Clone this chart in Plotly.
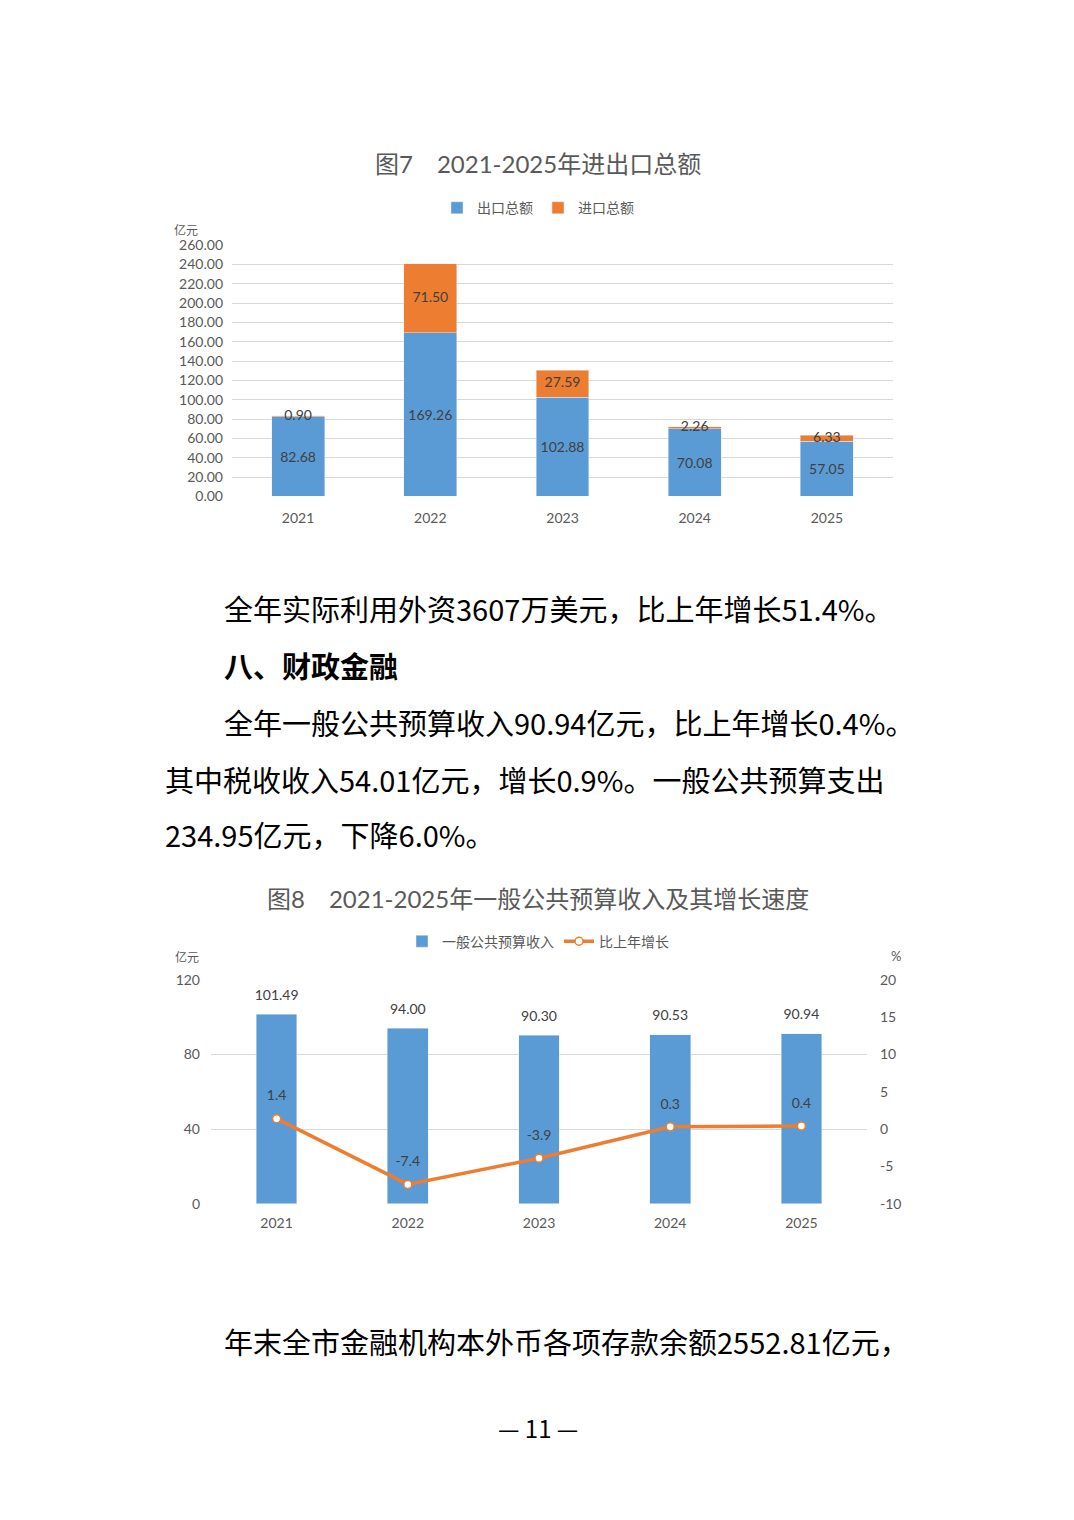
import plotly.graph_objects as go

# 图7 data
years = ["2021", "2022", "2023", "2024", "2025"]
export_total = [82.68, 169.26, 102.88, 70.08, 57.05]
import_total = [0.90, 71.50, 27.59, 2.26, 6.33]

# 图8 data
budget_income = [101.49, 94.00, 90.30, 90.53, 90.94]
growth_rate = [1.4, -7.4, -3.9, 0.3, 0.4]
rate_ticks = [-10, -5, 0, 5, 10, 15, 20]

# body text of the page
body_lines = [
    "全年实际利用外资3607万美元，比上年增长51.4%。",
    "八、财政金融",
    "全年一般公共预算收入90.94亿元，比上年增长0.4%。",
    "其中税收收入54.01亿元，增长0.9%。一般公共预算支出",
    "234.95亿元，下降6.0%。",
    "年末全市金融机构本外币各项存款余额2552.81亿元，",
]

# figure kept a bit smaller than the window so the page never scrolls
W, H = 1058, 1490
OFF_X = 8
BLUE = "#5B9BD5"
ORANGE = "#ED7D31"
GRID = "#D9D9D9"
GRAY = "#595959"
LABEL = "#404040"
CHART_FONT = "Lato, Noto Sans CJK SC"
TEXT_FONT = "Noto Sans CJK SC"


def px_x(x):
    return (x - OFF_X) / W


def px_y(y):
    # measured: the photo lands ~9px lower and slightly squeezed vertically
    y = (y - 9) / 0.988
    return 1 - (y - 8) / H


fig = go.Figure()

# ---- figure 7: stacked bars
fig.add_trace(go.Bar(
    x=years, y=export_total, name="出口总额", marker_color=BLUE, width=0.4,
    texttemplate="%{y:.2f}", textposition="inside", insidetextanchor="middle",
    textfont=dict(color=LABEL, size=14), xaxis="x", yaxis="y", legend="legend",
))
fig.add_trace(go.Bar(
    x=years, y=import_total, name="进口总额", marker_color=ORANGE, width=0.4,
    textposition="none", xaxis="x", yaxis="y", legend="legend",
))
# import labels sit in the middle of the orange segment, even when it is thin
import_mid = [e + i / 2 for e, i in zip(export_total, import_total)]
fig.add_trace(go.Scatter(
    x=years, y=import_mid, mode="text", showlegend=False,
    text=[f"{v:.2f}" for v in import_total], textposition="middle center",
    textfont=dict(color=LABEL, size=14), cliponaxis=False, hoverinfo="skip",
    xaxis="x", yaxis="y",
))

# ---- figure 8: bars + growth line
fig.add_trace(go.Bar(
    x=years, y=budget_income, name="一般公共预算收入", marker_color=BLUE,
    textposition="none", xaxis="x2", yaxis="y2", legend="legend2", width=0.31,
))
fig.add_trace(go.Scatter(
    x=years, y=growth_rate, name="比上年增长", mode="lines+markers",
    line=dict(color=ORANGE, width=3.5),
    marker=dict(size=8, color="white", line=dict(color=ORANGE, width=1.5)),
    xaxis="x2", yaxis="y3", legend="legend2",
))
# value labels, lifted a little above bars / points like the original
fig.add_trace(go.Scatter(
    x=years, y=budget_income, mode="markers+text", showlegend=False,
    marker=dict(size=16, color="rgba(0,0,0,0)"),
    text=[f"{v:.2f}" for v in budget_income], textposition="top center",
    textfont=dict(color=LABEL, size=14), cliponaxis=False, hoverinfo="skip",
    xaxis="x2", yaxis="y2",
))
fig.add_trace(go.Scatter(
    x=years, y=growth_rate, mode="markers+text", showlegend=False,
    marker=dict(size=22, color="rgba(0,0,0,0)"),
    text=[f"{v:.1f}" for v in growth_rate], textposition="top center",
    textfont=dict(color=LABEL, size=14), cliponaxis=False, hoverinfo="skip",
    xaxis="x2", yaxis="y3",
))

axis_font = dict(color=GRAY, size=14, family=CHART_FONT)

fig.update_layout(
    width=W, height=H,
    margin=dict(l=0, r=0, t=0, b=0),
    paper_bgcolor="white", plot_bgcolor="white",
    font=dict(family=CHART_FONT, color=GRAY),
    barmode="stack",
    xaxis=dict(domain=[px_x(232), px_x(893)], anchor="y", type="category",
               showgrid=False, showline=False, ticks="", tickfont=axis_font,
               ticklabelstandoff=12),
    yaxis=dict(domain=[px_y(496), px_y(245)], anchor="x", range=[0, 260], dtick=20,
               tickformat=".2f", gridcolor=GRID, zeroline=False, showline=False,
               tickfont=axis_font, ticklabelstandoff=8),
    xaxis2=dict(domain=[px_x(211), px_x(867)], anchor="y2", type="category",
                showgrid=False, showline=False, ticks="", tickfont=axis_font,
                ticklabelstandoff=9),
    yaxis2=dict(domain=[px_y(1203), px_y(979)], anchor="x2", range=[0, 120], dtick=40,
                gridcolor=GRID, zeroline=False, showline=False, tickfont=axis_font,
                ticklabelstandoff=10),
    yaxis3=dict(overlaying="y2", side="right", anchor="x2", range=[-10, 20],
                tickvals=rate_ticks, ticktext=[str(v) for v in rate_ticks],
                showgrid=False, zeroline=False, showline=False, tickfont=axis_font,
                ticklabelstandoff=12),
    legend=dict(orientation="h", x=px_x(538), xanchor="center", y=px_y(208),
                yanchor="middle", traceorder="normal",
                font=dict(color=GRAY, size=14), bgcolor="rgba(0,0,0,0)"),
    legend2=dict(orientation="h", x=px_x(538), xanchor="center", y=px_y(941),
                 yanchor="middle", traceorder="normal",
                 font=dict(color=GRAY, size=14), bgcolor="rgba(0,0,0,0)"),
    showlegend=True,
)

# chart titles and unit labels
chart_notes = [
    ("图7　2021-2025年进出口总额", 538, 163, 24, "center"),
    ("亿元", 172, 230, 12, "left"),
    ("图8　2021-2025年一般公共预算收入及其增长速度", 538, 898, 24, "center"),
    ("亿元", 173, 957, 12, "left"),
    ("%", 889, 955, 13, "left"),
]
for txt, x, y, size, anchor in chart_notes:
    fig.add_annotation(text=txt, x=px_x(x), y=px_y(y), xref="paper", yref="paper",
                       xanchor=anchor, yanchor="middle", showarrow=False,
                       font=dict(size=size, color=GRAY, family=CHART_FONT))

# body text
text_pos = [(222, 608), (222, 665), (222, 721), (163, 778), (163, 833), (222, 1340)]
for line, (x, y) in zip(body_lines, text_pos):
    bold = line.startswith("八、")
    fig.add_annotation(text=f"<b>{line}</b>" if bold else line,
                       x=px_x(x), y=px_y(y), xref="paper", yref="paper",
                       xanchor="left", yanchor="middle", showarrow=False,
                       font=dict(size=29, color="black", family=TEXT_FONT))

fig.add_annotation(text="— 11 —", x=px_x(538), y=px_y(1427), xref="paper", yref="paper",
                   xanchor="center", yanchor="middle", showarrow=False,
                   font=dict(size=24, color="black", family=TEXT_FONT))

fig.write_html("out.html")
